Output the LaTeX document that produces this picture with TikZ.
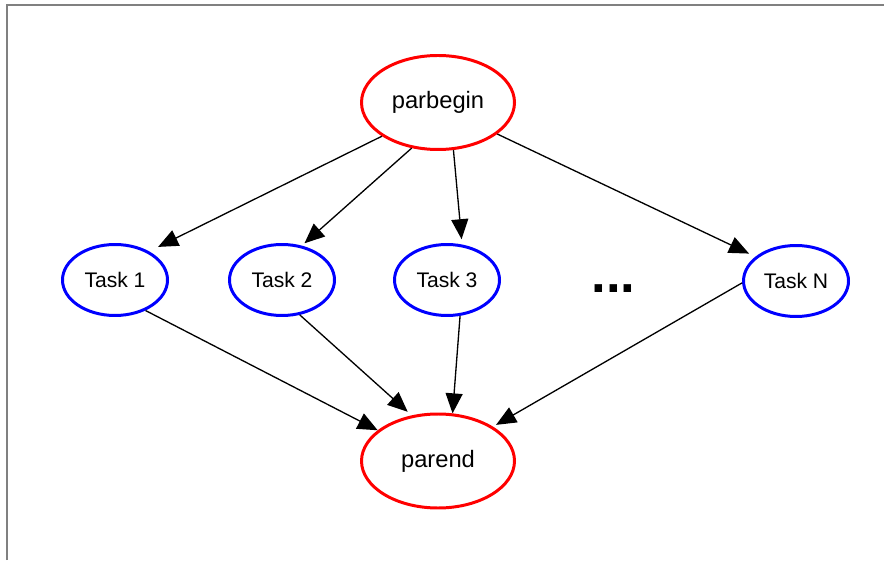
\documentclass[tikz,border=0pt]{standalone}
\usepackage{fontspec}
\setmainfont{Liberation Sans}
\usepackage{tikz}
\usetikzlibrary{arrows.meta,shapes.geometric}
\tikzset{
  ctrl/.style={ellipse,draw=red,line width=1.7pt,minimum width=3.06cm,minimum height=1.88cm,inner sep=0pt,font=\fontsize{13.5}{15}\selectfont},
  task/.style={ellipse,draw=blue,line width=1.7pt,minimum width=2.1cm,minimum height=1.42cm,inner sep=0pt,font=\fontsize{12}{14}\selectfont},
  flow/.style={-{Triangle[length=0.4cm,width=0.34cm]},line width=0.75pt}
}

\begin{document}
\begin{tikzpicture}
  \useasboundingbox (0,0) rectangle (17.68,11.2);
  % outer frame (top and left edges only)
  \draw[gray,line width=0.04cm] (0.14,0) -- (0.14,11.1) -- (17.68,11.1);
  % fork and join
  \node[ctrl] (pb) at (8.76,9.15) {parbegin};
  \node[ctrl] (pe) at (8.76,1.98) {parend};
  % parallel tasks
  \node[task] (t1) at (2.3,5.6) {Task 1};
  \node[task] (t2) at (5.64,5.6) {Task 2};
  \node[task] (t3) at (8.94,5.6) {Task 3};
  \node[task] (tn) at (15.92,5.58) {Task N};
  \node[anchor=base,font=\fontsize{30}{30}\selectfont\bfseries] (dots) at (12.27,5.34) {...};
  % fork arrows
  \draw[flow,shorten >=0.2cm] (pb.211) -- (t1.40);
  \draw[flow,shorten >=2pt] (pb.240) -- (t2.60);
  \draw[flow,shorten >=3pt] (pb.288) -- (t3.67);
  \draw[flow,shorten >=4pt] (pb.332) -- (tn.149);
  % join arrows
  \draw[flow] (t1.315) -- (pe.153);
  \draw[flow,shorten >=3pt] (t2.297) -- (pe.120);
  \draw[flow] (t3.290) -- (pe.73);
  \draw[flow,shorten >=2pt] (tn.182) -- (pe.32);
\end{tikzpicture}
\end{document}
